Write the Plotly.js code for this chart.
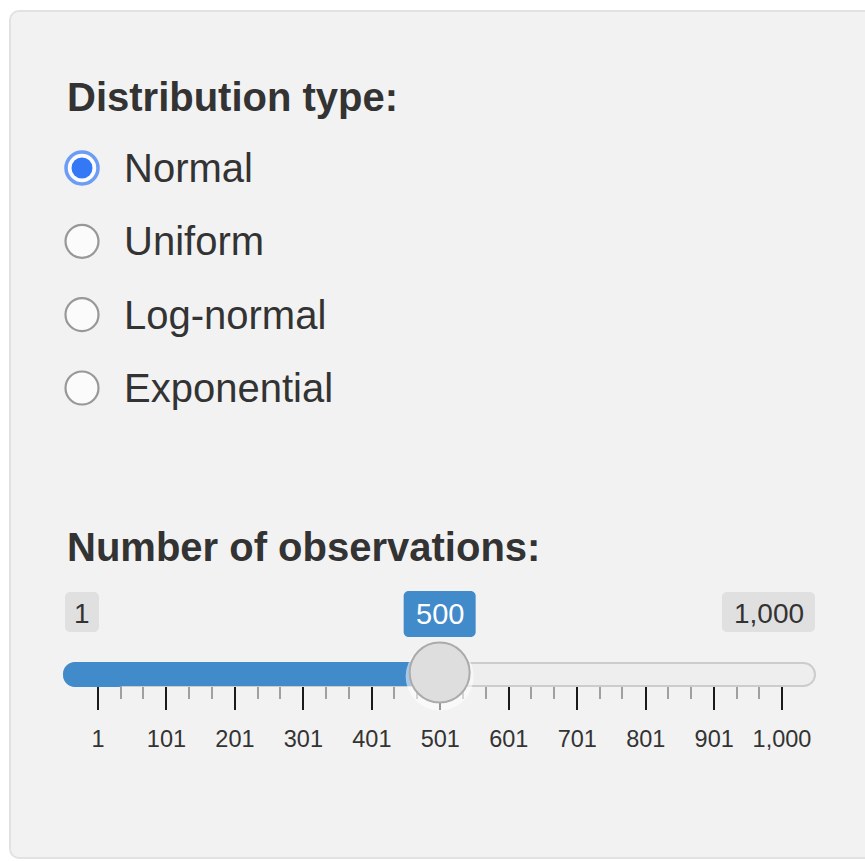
<!DOCTYPE html>
<html>
<head>
<meta charset="utf-8">
<script src="https://cdn.plot.ly/plotly-3.0.1.min.js"></script>
<style>
  html, body { margin: 0; padding: 0; background: #ffffff; }
  #chart { width: 865px; height: 861px; }
</style>
</head>
<body>
<div id="chart"></div>
<script>
// ---------- data ----------
const radioTitle = "Distribution type:";
const radioOptions = ["Normal", "Uniform", "Log-normal", "Exponential"];
const radioSelected = "Normal";

const sliderTitle = "Number of observations:";
const sliderMin = 1;
const sliderMax = 1000;
const sliderValue = 500;
const sliderMinLabel = "1";
const sliderMaxLabel = "1,000";
const sliderValueLabel = "500";
const majorTickVals = [1, 101, 201, 301, 401, 501, 601, 701, 801, 901, 1000];
const majorTickText = ["1", "101", "201", "301", "401", "501", "601", "701", "801", "901", "1,000"];
const minorTickVals = [34, 67, 134, 167, 234, 267, 334, 367, 434, 467, 534, 567, 634, 667, 734, 767, 834, 867, 934, 967];

// ---------- layout helpers (pixel space -> paper) ----------
const W = 865, H = 861;
const FONT = "Liberation Sans, Arial, Helvetica, sans-serif";
const TEXT = "#333333";
const BLUE = "#428bca";
const RADIO_BLUE = "#3478f6";
const px = x => x / W;
const py = y => 1 - y / H;
const K = 0.5523;
function roundRect(x0, y0, x1, y1, r, fx, fy) {
  const k = r * (1 - K);
  return [
    `M${fx(x0 + r)},${fy(y0)}`,
    `L${fx(x1 - r)},${fy(y0)}`,
    `C${fx(x1 - k)},${fy(y0)} ${fx(x1)},${fy(y0 + k)} ${fx(x1)},${fy(y0 + r)}`,
    `L${fx(x1)},${fy(y1 - r)}`,
    `C${fx(x1)},${fy(y1 - k)} ${fx(x1 - k)},${fy(y1)} ${fx(x1 - r)},${fy(y1)}`,
    `L${fx(x0 + r)},${fy(y1)}`,
    `C${fx(x0 + k)},${fy(y1)} ${fx(x0)},${fy(y1 - k)} ${fx(x0)},${fy(y1 - r)}`,
    `L${fx(x0)},${fy(y0 + r)}`,
    `C${fx(x0)},${fy(y0 + k)} ${fx(x0 + k)},${fy(y0)} ${fx(x0 + r)},${fy(y0)}`,
    "Z"
  ].join(" ");
}
const id = v => v;

// slider geometry (pixels)
const TRACK_TOP = 663, TRACK_BOT = 686, TRACK_L = 64, TRACK_R = 815;
const TRACK_MID = (TRACK_TOP + TRACK_BOT) / 2;
// x-axis scale so that sliderMin sits at 98px and sliderMax at 782px
const pxPerUnit = (782 - 98) / (sliderMax - sliderMin);
const xr0 = sliderMin - 98 / pxPerUnit;
const xr1 = xr0 + W / pxPerUnit;

// radio geometry: first option centred at 168px, 73.33px apart, circle x at 82px
const RADIO_Y0 = 168, RADIO_STEP = 73.33, RADIO_X = 82;
const y2r0 = (H - RADIO_Y0) / RADIO_STEP;   // bottom
const y2r1 = -RADIO_Y0 / RADIO_STEP;        // top

// ---------- traces ----------
const radioOuter = {
  type: "scatter", mode: "markers", xaxis: "x2", yaxis: "y2",
  x: radioOptions.map(() => 0), y: radioOptions,
  marker: {
    size: radioOptions.map(o => o === radioSelected ? 32 : 33),
    color: "#ffffff",
    line: {
      color: radioOptions.map(o => o === radioSelected ? RADIO_BLUE : "#737373"),
      width: radioOptions.map(o => o === radioSelected ? 3.5 : 2.2)
    }
  },
  hoverinfo: "skip", showlegend: false
};
const radioDot = {
  type: "scatter", mode: "markers", xaxis: "x2", yaxis: "y2",
  x: [0], y: [radioSelected],
  marker: { size: 21, color: RADIO_BLUE, line: { width: 0 } },
  hoverinfo: "skip", showlegend: false
};
const handleShadow = {
  type: "scatter", mode: "markers", xaxis: "x", yaxis: "y",
  x: [sliderValue], y: [TRACK_MID + 2], cliponaxis: false,
  marker: { size: 68, color: "rgba(255,255,255,0.55)", line: { width: 0 } },
  hoverinfo: "skip", showlegend: false
};
const handle = {
  type: "scatter", mode: "markers", xaxis: "x", yaxis: "y",
  x: [sliderValue], y: [TRACK_MID - 2], cliponaxis: false,
  marker: { size: 60, color: "#dedede", line: { color: "#ababab", width: 2 } },
  hoverinfo: "skip", showlegend: false
};

// ---------- shapes ----------
const shapes = [
  // well panel
  { type: "path", xref: "paper", yref: "paper", layer: "below",
    path: roundRect(10, 11, 900, 858, 9, px, py),
    fillcolor: "#f2f2f2", line: { color: "#e2e2e2", width: 2 } },
  // slider track
  { type: "path", xref: "paper", yref: "paper", layer: "below",
    path: roundRect(TRACK_L, TRACK_TOP, TRACK_R, TRACK_BOT, 11.5, px, py),
    fillcolor: "#eeeeee", line: { color: "#cccccc", width: 2 } },
  // blue bar: rounded start (pad area)
  { type: "path", xref: "paper", yref: "paper", layer: "below",
    path: roundRect(TRACK_L - 1, TRACK_TOP - 1, 130, TRACK_BOT + 1, 12, px, py),
    fillcolor: BLUE, line: { width: 0 } },
  // blue bar: from min to current value
  { type: "rect", xref: "x", yref: "y", layer: "below",
    x0: sliderMin, x1: sliderValue, y0: TRACK_TOP - 1, y1: TRACK_BOT + 1,
    fillcolor: BLUE, line: { width: 0 } },
  // min label box
  { type: "path", xref: "paper", yref: "paper", layer: "below",
    path: roundRect(65, 592, 99, 632, 5, px, py),
    fillcolor: "#e0e0e0", line: { width: 0 } },
  // max label box
  { type: "path", xref: "paper", yref: "paper", layer: "below",
    path: roundRect(722, 592, 815, 632, 5, px, py),
    fillcolor: "#e0e0e0", line: { width: 0 } },
  // value label box, centred on the value
  { type: "path", xref: "x", yref: "y", xsizemode: "pixel", xanchor: sliderValue, layer: "above",
    path: roundRect(-36, 591, 36, 637, 5, id, id),
    fillcolor: BLUE, line: { width: 0 } }
];

// ---------- annotations ----------
const annotations = [
  { xref: "paper", yref: "paper", x: px(64.5), y: py(97), xanchor: "left", yanchor: "middle",
    text: radioTitle, showarrow: false,
    font: { family: FONT, size: 40, color: TEXT, weight: "bold" } },
  { xref: "paper", yref: "paper", x: px(64.5), y: py(547), xanchor: "left", yanchor: "middle",
    text: sliderTitle, showarrow: false,
    font: { family: FONT, size: 40, color: TEXT, weight: "bold" } },
  { xref: "paper", yref: "paper", x: px(82), y: py(613), xanchor: "center", yanchor: "middle",
    text: sliderMinLabel, showarrow: false, font: { family: FONT, size: 28, color: TEXT } },
  { xref: "paper", yref: "paper", x: px(768.5), y: py(613), xanchor: "center", yanchor: "middle",
    text: sliderMaxLabel, showarrow: false, font: { family: FONT, size: 28, color: TEXT } },
  { xref: "x", yref: "y", x: sliderValue, y: 614, xanchor: "center", yanchor: "middle",
    text: sliderValueLabel, showarrow: false, font: { family: FONT, size: 29, color: "#ffffff" } }
].concat(radioOptions.map(o => ({
  xref: "x2", yref: "y2", x: 122 - RADIO_X, y: o, xanchor: "left", yanchor: "middle",
  text: o, showarrow: false, font: { family: FONT, size: 40, color: TEXT }
})));

const layout = {
  width: W, height: H,
  margin: { l: 0, r: 0, t: 0, b: 0, pad: 0 },
  paper_bgcolor: "#ffffff", plot_bgcolor: "rgba(0,0,0,0)",
  showlegend: false,
  xaxis: {
    domain: [0, 1], range: [xr0, xr1], anchor: "y",
    showgrid: false, zeroline: false, showline: false, fixedrange: true,
    layer: "below traces",
    tickmode: "array", tickvals: majorTickVals, ticktext: majorTickText,
    ticks: "outside", ticklen: 23, tickwidth: 2, tickcolor: "#1a1a1a",
    ticklabelstandoff: 9,
    tickfont: { family: FONT, size: 23.5, color: TEXT },
    minor: { tickmode: "array", tickvals: minorTickVals, ticks: "outside",
             ticklen: 12, tickwidth: 2, tickcolor: "#a0a0a0", showgrid: false }
  },
  yaxis: {
    domain: [1 - TRACK_BOT / H, 1], range: [TRACK_BOT, 0], anchor: "x",
    visible: false, fixedrange: true
  },
  xaxis2: {
    domain: [0, 1], range: [-RADIO_X, W - RADIO_X], anchor: "y2",
    visible: false, fixedrange: true
  },
  yaxis2: {
    domain: [0, 1], type: "category", categoryarray: radioOptions, categoryorder: "array",
    range: [y2r0, y2r1], anchor: "x2", visible: false, fixedrange: true
  },
  shapes: shapes,
  annotations: annotations
};

Plotly.newPlot("chart", [handleShadow, handle, radioOuter, radioDot], layout,
  { staticPlot: true, displayModeBar: false });
</script>
</body>
</html>
